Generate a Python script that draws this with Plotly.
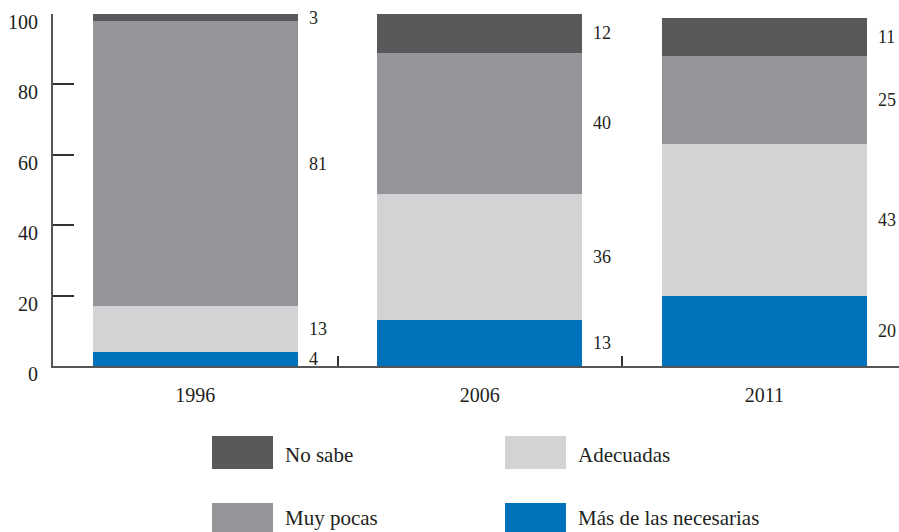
import plotly.graph_objects as go

# ---- data ----
years = ["1996", "2006", "2011"]
series_names = ["Más de las necesarias", "Adecuadas", "Muy pocas", "No sabe"]
mas_necesarias = [4, 13, 20]
adecuadas = [13, 36, 43]
muy_pocas = [81, 40, 25]
no_sabe = [3, 12, 11]
y_ticks = [0, 20, 40, 60, 80, 100]

series_values = [mas_necesarias, adecuadas, muy_pocas, no_sabe]
colors = ["#0071bb", "#d1d3d4", "#939598", "#58595b"]

W, H = 899, 532
ML, MR, MT, MB = 53, 0, 14, 166
FONT = "Liberation Serif"
TXT = "#231f20"
BAR_W = 0.72

fig = go.Figure()
for name, vals, col in zip(series_names, series_values, colors):
    fig.add_trace(go.Bar(x=years, y=vals, name=name, marker_color=col,
                         marker_line_width=0, width=BAR_W, showlegend=False,
                         hoverinfo="skip"))

# value labels to the right of each segment
for i, yr in enumerate(years):
    base = 0
    for vals in series_values:
        v = vals[i]
        top = min(base + v, 100)
        yc = (base + top) / 2
        fig.add_annotation(x=i + BAR_W / 2, y=yc, xref="x", yref="y", text=str(v),
                           showarrow=False, xanchor="left", yanchor="middle", xshift=9,
                           font=dict(family=FONT, size=18, color=TXT))
        base += v

# manual legend (big swatches)
pw = W - ML - MR
ph = H - MT - MB
def px(xp):
    return (xp - ML) / pw
def py(yp):
    return (H - MB - yp) / ph

legend_layout = [("No sabe", 212, 436, 19), ("Adecuadas", 505, 436, 19),
                 ("Muy pocas", 212, 503, 15), ("Más de las necesarias", 505, 503, 15)]
for name, lx, ly, dy in legend_layout:
    col = colors[series_names.index(name)]
    fig.add_shape(type="rect", xref="paper", yref="paper",
                  x0=px(lx), x1=px(lx + 61), y0=py(ly), y1=py(ly + 33),
                  fillcolor=col, line_width=0)
    fig.add_annotation(xref="paper", yref="paper", x=px(lx + 72), y=py(ly + dy),
                       text=name, showarrow=False, xanchor="left", yanchor="middle",
                       borderpad=0, font=dict(family=FONT, size=21, color=TXT))

fig.update_layout(
    width=W, height=H, margin=dict(l=ML, r=MR, t=MT, b=MB),
    barmode="stack", plot_bgcolor="white", paper_bgcolor="white",
    font=dict(family=FONT, size=20, color=TXT),
    xaxis=dict(type="category", range=[-0.5, 2.473], showgrid=False,
               showline=True, linecolor="#555555", linewidth=2,
               ticks="inside", tickson="boundaries", ticklen=10, tickwidth=1.5,
               tickcolor="#333333", tickfont=dict(family=FONT, size=20, color=TXT),
               ticklabelstandoff=10, fixedrange=True),
    yaxis=dict(range=[0, 100], tickvals=y_ticks, showgrid=False, zeroline=False,
               showline=True, linecolor="#555555", linewidth=2,
               ticks="inside", ticklen=21, tickwidth=1.5, tickcolor="#333333",
               tickfont=dict(family=FONT, size=20, color=TXT),
               ticklabelstandoff=9, ticklabelshift=8, fixedrange=True),
)

fig.write_html("out.html", config={"displayModeBar": False},
               post_script="document.body.style.margin='0px';")
